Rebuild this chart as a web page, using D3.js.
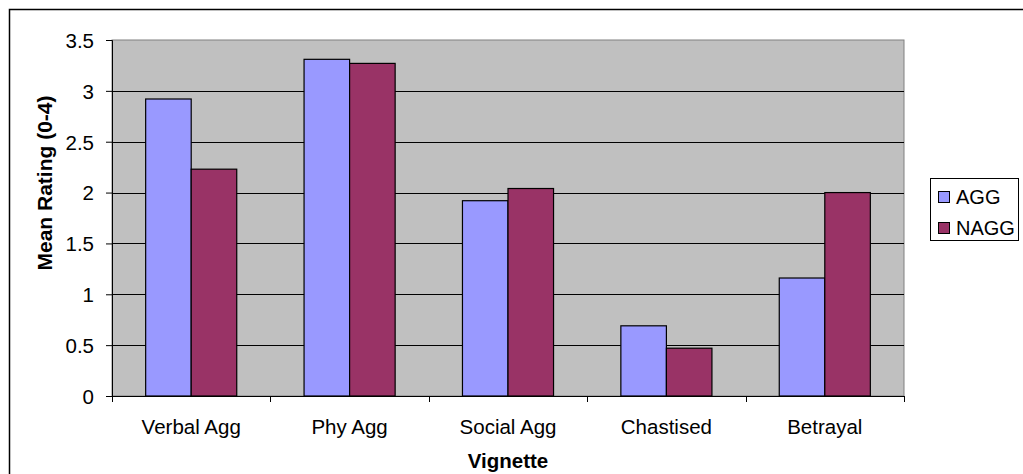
<!DOCTYPE html>
<html><head><meta charset="utf-8">
<script src="https://cdn.jsdelivr.net/npm/d3@7"></script>
<style>body{margin:0;background:#fff}svg{display:block}text{font-family:"Liberation Sans",Arial,sans-serif}</style>
</head><body>
<svg id="c" width="1023" height="474"></svg>
<script>
const categories = ["Verbal Agg", "Phy Agg", "Social Agg", "Chastised", "Betrayal"];
const seriesNames = ["AGG", "NAGG"];
const aggValues = [2.92, 3.31, 1.92, 0.69, 1.16];
const naggValues = [2.23, 3.27, 2.04, 0.47, 2.00];
const yTicks = [0, 0.5, 1, 1.5, 2, 2.5, 3, 3.5];
const colors = ["#9999FF", "#993366"];

const svg = d3.select("#c");
const L = 112, R = 904, T = 40, B = 396;
const FS = 20.5;

// outer frame
svg.append("rect").attr("x", 9.5).attr("y", 9.5).attr("width", 1030).attr("height", 480)
  .attr("fill", "none").attr("stroke", "#000").attr("stroke-width", 1.5);

const x = d3.scaleBand().domain(categories).range([L, R]).paddingInner(0).paddingOuter(0);
const y = d3.scaleLinear().domain([0, 3.5]).range([B, T]);
const groupFrac = 0.575;
const xs = d3.scaleBand().domain(seriesNames).range([0, x.bandwidth() * groupFrac]);
const offset = x.bandwidth() * (1 - groupFrac) / 2;

svg.append("rect").attr("x", L).attr("y", T).attr("width", R - L).attr("height", B - T)
  .attr("fill", "#C0C0C0").attr("stroke", "#808080").attr("stroke-width", 1);

// gridlines
svg.append("g").selectAll("line").data(yTicks.filter(d => d > 0 && d < 3.5)).join("line")
  .attr("x1", L).attr("x2", R).attr("y1", d => Math.round(y(d)) + 0.5).attr("y2", d => Math.round(y(d)) + 0.5)
  .attr("stroke", "#000").attr("stroke-width", 1);

// bars
const data = categories.map((c, i) => ({c, vals: [aggValues[i], naggValues[i]]}));
const g = svg.append("g");
data.forEach(d => {
  d.vals.forEach((v, j) => {
    g.append("rect")
      .attr("x", x(d.c) + offset + xs(seriesNames[j]))
      .attr("y", y(v))
      .attr("width", xs.bandwidth())
      .attr("height", y(0) - y(v))
      .attr("fill", colors[j]).attr("stroke", "#000").attr("stroke-width", 1.2);
  });
});

// y axis
const ya = svg.append("g").attr("transform", `translate(${L},0)`)
  .call(d3.axisLeft(y).tickValues(yTicks).tickFormat(d3.format("")).tickSize(6).tickPadding(12));
ya.select(".domain").attr("stroke", "#000");
ya.selectAll("line").attr("stroke", "#000");
ya.selectAll("text").attr("font-size", FS).attr("fill", "#000").attr("x", -18).attr("dy", "0.36em");

// x axis
const xa = svg.append("g").attr("transform", `translate(0,${B})`);
xa.append("line").attr("x1", L).attr("x2", R).attr("y1", 0.5).attr("y2", 0.5).attr("stroke", "#000");
const edges = categories.map(c => x(c)).concat([R]);
xa.selectAll("line.t").data(edges).join("line").attr("class", "t")
  .attr("x1", d => Math.round(d) + 0.5).attr("x2", d => Math.round(d) + 0.5).attr("y1", 0).attr("y2", 6).attr("stroke", "#000");
xa.selectAll("text").data(categories).join("text")
  .attr("x", d => x(d) + x.bandwidth() / 2).attr("y", 38)
  .attr("text-anchor", "middle").attr("font-size", FS).attr("fill", "#000").text(d => d);

// titles
svg.append("text").attr("x", (L + R) / 2).attr("y", 468).attr("text-anchor", "middle")
  .attr("font-size", FS).attr("font-weight", "bold").text("Vignette");
svg.append("text").attr("transform", `translate(52,183) rotate(-90)`).attr("text-anchor", "middle")
  .attr("font-size", 21).attr("font-weight", "bold").text("Mean Rating (0-4)");

// legend
const lg = svg.append("g");
lg.append("rect").attr("x", 930.5).attr("y", 178.5).attr("width", 88).attr("height", 62)
  .attr("fill", "#fff").attr("stroke", "#000");
seriesNames.forEach((s, i) => {
  const cy = 197 + i * 31;
  lg.append("rect").attr("x", 938.5).attr("y", cy - 5.5).attr("width", 11).attr("height", 11)
    .attr("fill", colors[i]).attr("stroke", "#000");
  lg.append("text").attr("x", 956).attr("y", cy + 7).attr("font-size", FS - 0.5).text(s);
});
</script>
</body></html>
